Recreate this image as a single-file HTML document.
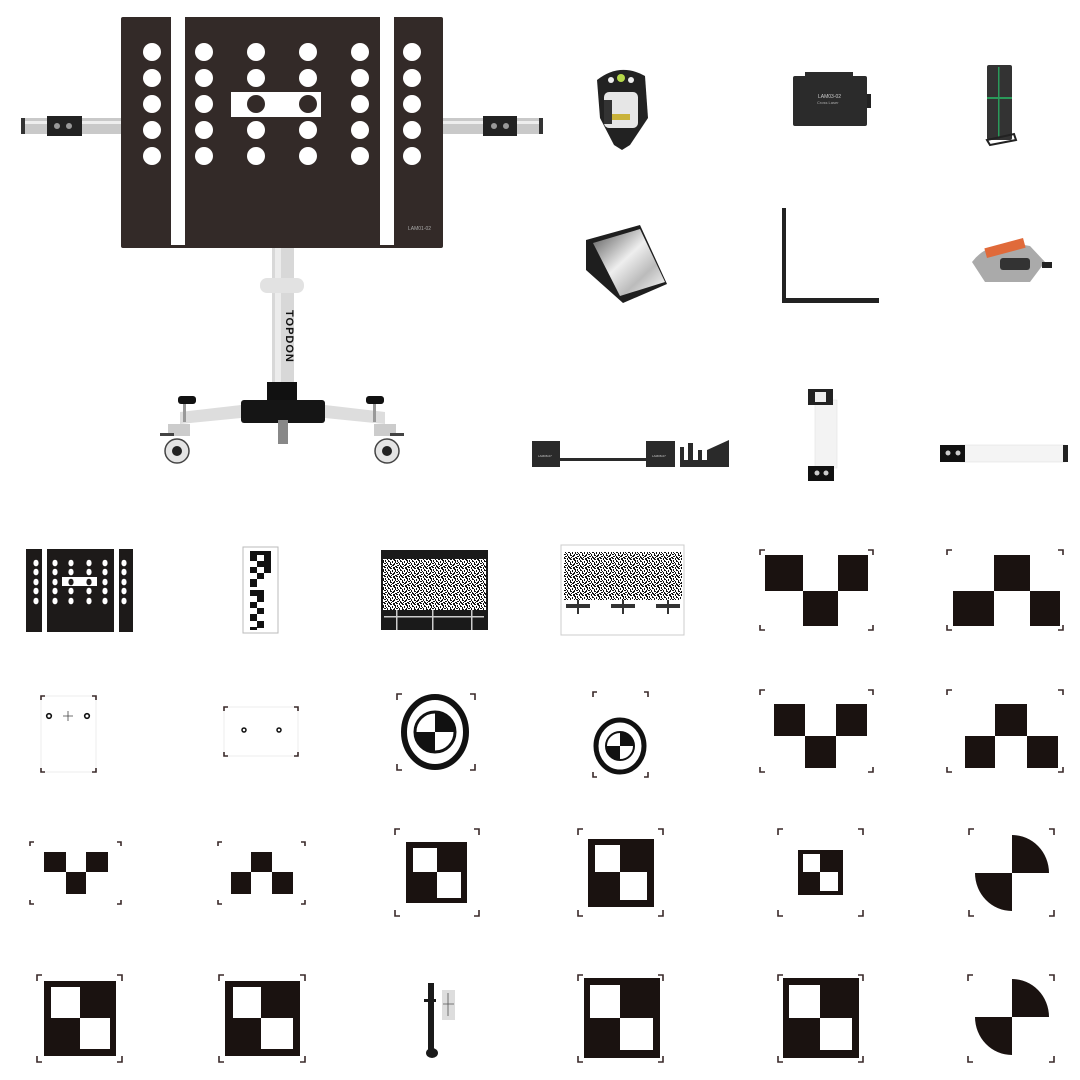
<!DOCTYPE html>
<html><head><meta charset="utf-8"><style>html,body{margin:0;padding:0;background:#fff}svg{display:block}</style></head>
<body>
<svg width="1080" height="1080" viewBox="0 0 1080 1080" xmlns="http://www.w3.org/2000/svg">
<defs>
<pattern id="nz" width="12" height="9" patternUnits="userSpaceOnUse">
<rect width="12" height="9" fill="#fff"/>
<g fill="#111">
<rect x="0" y="0" width="2" height="1"/><rect x="3" y="0" width="1" height="2"/><rect x="5" y="0" width="2" height="1"/><rect x="6" y="1" width="2" height="1"/><rect x="9" y="0" width="2" height="2"/>
<rect x="1" y="2" width="1" height="2"/><rect x="4" y="3" width="2" height="1"/><rect x="4" y="2" width="1" height="1"/><rect x="8" y="3" width="1" height="2"/><rect x="10" y="2" width="2" height="1"/><rect x="11" y="3" width="1" height="2"/>
<rect x="0" y="5" width="2" height="1"/><rect x="2" y="4" width="1" height="1"/><rect x="3" y="5" width="1" height="2"/><rect x="6" y="6" width="2" height="1"/><rect x="6" y="4" width="1" height="2"/><rect x="10" y="5" width="1" height="2"/><rect x="9" y="6" width="1" height="1"/>
<rect x="1" y="7" width="2" height="1"/><rect x="0" y="8" width="1" height="1"/><rect x="4" y="7" width="1" height="2"/><rect x="5" y="8" width="1" height="1"/><rect x="8" y="7" width="2" height="1"/><rect x="11" y="8" width="1" height="1"/><rect x="7" y="8" width="1" height="1"/>
</g>
</pattern>
<linearGradient id="mir" x1="0" y1="0" x2="1" y2="1"><stop offset="0" stop-color="#555"/><stop offset=".45" stop-color="#eee"/><stop offset=".7" stop-color="#bbb"/><stop offset="1" stop-color="#fff"/></linearGradient>
</defs>

<!-- rails -->
<rect x="21" y="118" width="100" height="16" fill="#c9c9c9"/>
<rect x="21" y="121" width="100" height="3" fill="#eee"/>
<rect x="21" y="118" width="4" height="16" fill="#333"/>
<rect x="47" y="116" width="35" height="20" fill="#222"/>
<circle cx="57" cy="126" r="3" fill="#999"/><circle cx="69" cy="126" r="3" fill="#999"/>
<rect x="443" y="118" width="100" height="16" fill="#c9c9c9"/>
<rect x="443" y="121" width="100" height="3" fill="#eee"/>
<rect x="539" y="118" width="4" height="16" fill="#333"/>
<rect x="483" y="116" width="34" height="20" fill="#222"/>
<circle cx="494" cy="126" r="3" fill="#999"/><circle cx="506" cy="126" r="3" fill="#999"/>

<!-- main board -->
<rect x="121" y="17" width="322" height="231" rx="2" fill="#332a28"/>
<rect x="171" y="17" width="14" height="228" fill="#fff"/>
<rect x="380" y="17" width="14" height="228" fill="#fff"/>
<g fill="#fff">
<circle cx="152" cy="52" r="9"/><circle cx="152" cy="78" r="9"/><circle cx="152" cy="104" r="9"/><circle cx="152" cy="130" r="9"/><circle cx="152" cy="156" r="9"/>
<circle cx="204" cy="52" r="9"/><circle cx="204" cy="78" r="9"/><circle cx="204" cy="104" r="9"/><circle cx="204" cy="130" r="9"/><circle cx="204" cy="156" r="9"/>
<circle cx="256" cy="52" r="9"/><circle cx="256" cy="78" r="9"/><circle cx="256" cy="130" r="9"/><circle cx="256" cy="156" r="9"/>
<circle cx="308" cy="52" r="9"/><circle cx="308" cy="78" r="9"/><circle cx="308" cy="130" r="9"/><circle cx="308" cy="156" r="9"/>
<circle cx="360" cy="52" r="9"/><circle cx="360" cy="78" r="9"/><circle cx="360" cy="104" r="9"/><circle cx="360" cy="130" r="9"/><circle cx="360" cy="156" r="9"/>
<circle cx="412" cy="52" r="9"/><circle cx="412" cy="78" r="9"/><circle cx="412" cy="104" r="9"/><circle cx="412" cy="130" r="9"/><circle cx="412" cy="156" r="9"/>
<rect x="231" y="92" width="90" height="25"/>
</g>
<circle cx="256" cy="104" r="9" fill="#332a28"/><circle cx="308" cy="104" r="9" fill="#332a28"/>
<text x="408" y="230" font-family="Liberation Sans, sans-serif" font-size="5" fill="#aaa">LAM01-02</text>

<!-- stand -->
<rect x="272" y="248" width="22" height="137" fill="#d8d8d8"/>
<rect x="275" y="248" width="6" height="137" fill="#ececec"/>
<rect x="260" y="278" width="44" height="15" rx="7" fill="#e2e2e2"/>
<text transform="translate(286,310) rotate(90)" font-family="Liberation Sans, sans-serif" font-weight="bold" font-size="11" letter-spacing="1" fill="#111">TOPDON</text>
<rect x="267" y="382" width="30" height="20" fill="#111"/>
<path d="M180 412 L241 405 L325 405 L385 412 L385 424 L325 418 L241 418 L180 424 Z" fill="#ddd"/>
<rect x="241" y="400" width="84" height="23" rx="3" fill="#151515"/>
<rect x="278" y="420" width="10" height="24" fill="#888"/>
<rect x="183" y="404" width="3" height="18" fill="#999"/><rect x="373" y="404" width="3" height="18" fill="#999"/>
<rect x="178" y="396" width="18" height="8" rx="3" fill="#111"/><rect x="366" y="396" width="18" height="8" rx="3" fill="#111"/>
<rect x="168" y="424" width="22" height="12" fill="#ccc"/><rect x="374" y="424" width="22" height="12" fill="#ccc"/>
<circle cx="177" cy="451" r="12" fill="#e4e4e4" stroke="#444" stroke-width="1.5"/><circle cx="177" cy="451" r="5" fill="#222"/>
<circle cx="387" cy="451" r="12" fill="#e4e4e4" stroke="#444" stroke-width="1.5"/><circle cx="387" cy="451" r="5" fill="#222"/>
<rect x="160" y="433" width="14" height="3" fill="#444"/><rect x="390" y="433" width="14" height="3" fill="#444"/>

<!-- top right accessories -->
<path d="M597 80 Q620 62 645 76 L648 118 L630 145 L622 150 L614 145 L600 118 Z" fill="#222"/>
<rect x="604" y="92" width="34" height="36" rx="5" fill="#e6e6e6"/>
<rect x="604" y="100" width="8" height="24" fill="#333"/>
<rect x="612" y="114" width="18" height="6" fill="#c9b23a"/>
<circle cx="621" cy="78" r="4" fill="#b6d94a"/><circle cx="611" cy="80" r="3" fill="#eee"/><circle cx="631" cy="80" r="3" fill="#eee"/>
<rect x="793" y="76" width="74" height="50" rx="2" fill="#2b2b2b"/>
<rect x="805" y="72" width="48" height="5" fill="#2b2b2b"/>
<rect x="867" y="94" width="4" height="14" fill="#222"/>
<text x="818" y="98" font-family="Liberation Sans, sans-serif" font-size="5" fill="#ccc">LAM03-02</text>
<text x="817" y="104" font-family="Liberation Sans, sans-serif" font-size="4" fill="#aaa">Cross Laser</text>
<rect x="987" y="65" width="25" height="75" rx="2" fill="#333"/>
<rect x="998" y="67" width="1.5" height="70" fill="#2a9a5a"/>
<rect x="987" y="97" width="25" height="2" fill="#2a9a5a"/>
<path d="M987 140 L1014 134 L1016 140 L990 145 Z" fill="none" stroke="#222" stroke-width="2"/>
<path d="M586 240 L640 225 L667 284 L623 303 L586 270 Z" fill="#1e1e1e"/>
<path d="M593 243 L640 229 L665 282 L620 296 Z" fill="url(#mir)"/>
<rect x="782" y="208" width="4" height="95" fill="#222"/>
<rect x="782" y="298" width="97" height="5" fill="#222"/>
<path d="M972 262 Q990 238 1030 246 L1045 262 L1030 282 L985 282 Z" fill="#aaa"/>
<rect x="985" y="243" width="40" height="10" fill="#e06a3a" transform="rotate(-15 1005 248)"/>
<rect x="1000" y="258" width="30" height="12" rx="3" fill="#333"/>
<rect x="1042" y="262" width="10" height="6" fill="#222"/>

<!-- bar set -->
<rect x="532" y="441" width="28" height="26" fill="#2a2a2a"/>
<rect x="560" y="458" width="86" height="3" fill="#2a2a2a"/>
<rect x="646" y="441" width="29" height="26" fill="#2a2a2a"/>
<text x="538" y="457" font-family="Liberation Sans, sans-serif" font-size="3" fill="#ccc">LAM08-07</text>
<text x="652" y="457" font-family="Liberation Sans, sans-serif" font-size="3" fill="#ccc">LAM08-07</text>
<path d="M680 467 L680 447 L684 447 L684 460 L688 460 L688 443 L693 443 L693 460 L698 460 L698 450 L702 450 L702 460 L707 460 L707 450 L729 440 L729 467 Z" fill="#2a2a2a"/>
<!-- vertical bracket -->
<rect x="815" y="400" width="22" height="68" fill="#f3f3f3" stroke="#ddd" stroke-width=".5"/>
<rect x="808" y="389" width="25" height="16" fill="#222"/><rect x="815" y="392" width="11" height="10" fill="#eee"/>
<rect x="808" y="466" width="26" height="15" fill="#111"/>
<circle cx="817" cy="473" r="2.5" fill="#ccc"/><circle cx="826" cy="473" r="2.5" fill="#ccc"/>
<!-- horizontal bar -->
<rect x="960" y="445" width="105" height="17" fill="#f4f4f4" stroke="#ddd" stroke-width=".5"/>
<rect x="940" y="445" width="25" height="17" fill="#111"/>
<circle cx="948" cy="453" r="2.5" fill="#ccc"/><circle cx="958" cy="453" r="2.5" fill="#ccc"/>
<rect x="1063" y="445" width="5" height="17" fill="#222"/>

<!-- ROW 1 -->
<rect x="26" y="549" width="107" height="83" fill="#1d1a19"/>
<rect x="42" y="549" width="5" height="83" fill="#fff"/><rect x="114" y="549" width="5" height="83" fill="#fff"/>
<g fill="#fff">
<ellipse cx="36" cy="563" rx="2.6" ry="3.3"/><ellipse cx="36" cy="572" rx="2.6" ry="3.3"/><ellipse cx="36" cy="582" rx="2.6" ry="3.3"/><ellipse cx="36" cy="591" rx="2.6" ry="3.3"/><ellipse cx="36" cy="601" rx="2.6" ry="3.3"/>
<ellipse cx="55" cy="563" rx="2.6" ry="3.3"/><ellipse cx="55" cy="572" rx="2.6" ry="3.3"/><ellipse cx="55" cy="582" rx="2.6" ry="3.3"/><ellipse cx="55" cy="591" rx="2.6" ry="3.3"/><ellipse cx="55" cy="601" rx="2.6" ry="3.3"/>
<ellipse cx="71" cy="563" rx="2.6" ry="3.3"/><ellipse cx="71" cy="572" rx="2.6" ry="3.3"/><ellipse cx="71" cy="591" rx="2.6" ry="3.3"/><ellipse cx="71" cy="601" rx="2.6" ry="3.3"/>
<ellipse cx="89" cy="563" rx="2.6" ry="3.3"/><ellipse cx="89" cy="572" rx="2.6" ry="3.3"/><ellipse cx="89" cy="591" rx="2.6" ry="3.3"/><ellipse cx="89" cy="601" rx="2.6" ry="3.3"/>
<ellipse cx="105" cy="563" rx="2.6" ry="3.3"/><ellipse cx="105" cy="572" rx="2.6" ry="3.3"/><ellipse cx="105" cy="582" rx="2.6" ry="3.3"/><ellipse cx="105" cy="591" rx="2.6" ry="3.3"/><ellipse cx="105" cy="601" rx="2.6" ry="3.3"/>
<ellipse cx="124" cy="563" rx="2.6" ry="3.3"/><ellipse cx="124" cy="572" rx="2.6" ry="3.3"/><ellipse cx="124" cy="582" rx="2.6" ry="3.3"/><ellipse cx="124" cy="591" rx="2.6" ry="3.3"/><ellipse cx="124" cy="601" rx="2.6" ry="3.3"/>
<rect x="62" y="577" width="35" height="9"/>
</g>
<ellipse cx="71" cy="582" rx="2.6" ry="3.3" fill="#1d1a19"/><ellipse cx="89" cy="582" rx="2.6" ry="3.3" fill="#1d1a19"/>

<rect x="243" y="547" width="35" height="86" fill="#fff" stroke="#bbb" stroke-width="1"/>
<g fill="#111">
<rect x="250" y="551" width="21" height="4"/><rect x="250" y="555" width="7" height="6"/><rect x="264" y="555" width="7" height="6"/><rect x="257" y="561" width="14" height="6"/>
<rect x="250" y="567" width="7" height="6"/><rect x="264" y="567" width="7" height="6"/><rect x="257" y="573" width="7" height="6"/>
<rect x="250" y="579" width="7" height="8"/><rect x="250" y="590" width="14" height="6"/><rect x="257" y="596" width="7" height="6"/>
<rect x="250" y="602" width="7" height="6"/><rect x="257" y="608" width="7" height="6"/><rect x="250" y="614" width="7" height="7"/><rect x="257" y="621" width="7" height="7"/><rect x="250" y="627" width="7" height="3"/>
</g>

<rect x="381" y="550" width="107" height="80" fill="#1a1a1a"/>
<rect x="383" y="559" width="103" height="51" fill="url(#nz)"/>
<g fill="#ccc"><rect x="384" y="616" width="100" height="1.5"/><rect x="396" y="610" width="1.5" height="20"/><rect x="432" y="610" width="1.5" height="20"/><rect x="471" y="610" width="1.5" height="20"/></g>

<rect x="561" y="545" width="123" height="90" fill="#fff" stroke="#ccc" stroke-width="1"/>
<rect x="564" y="552" width="118" height="48" fill="url(#nz)"/>
<g fill="#333"><rect x="566" y="604" width="24" height="4"/><rect x="577" y="600" width="2" height="14"/><rect x="611" y="604" width="24" height="4"/><rect x="622" y="600" width="2" height="14"/><rect x="656" y="604" width="24" height="4"/><rect x="667" y="600" width="2" height="14"/></g>

<g fill="#1a1210">
<rect x="765" y="555" width="38" height="36"/><rect x="838" y="555" width="30" height="36"/><rect x="803" y="591" width="35" height="35"/>
<rect x="994" y="555" width="36" height="36"/><rect x="953" y="591" width="41" height="35"/><rect x="1030" y="591" width="30" height="35"/>
</g>

<!-- ROW 2 -->
<rect x="41" y="696" width="55" height="76" fill="#fff" stroke="#eee"/>
<circle cx="49" cy="716" r="2.3" fill="none" stroke="#111" stroke-width="1.6"/><circle cx="87" cy="716" r="2.3" fill="none" stroke="#111" stroke-width="1.6"/>
<path d="M68 711 V721 M63 716 H73" stroke="#444" stroke-width=".8"/>
<rect x="224" y="707" width="74" height="49" fill="#fff" stroke="#eee"/>
<circle cx="244" cy="730" r="2" fill="none" stroke="#111" stroke-width="1.5"/><circle cx="279" cy="730" r="2" fill="none" stroke="#111" stroke-width="1.5"/>
<ellipse cx="435" cy="732" rx="31" ry="35" fill="none" stroke="#111" stroke-width="6"/>
<circle cx="435" cy="732" r="20" fill="#fff" stroke="#111" stroke-width="3"/>
<path d="M435 732 V712 A20 20 0 0 1 455 732 Z M435 732 V752 A20 20 0 0 1 415 732 Z" fill="#111"/>
<ellipse cx="620" cy="746" rx="24" ry="26" fill="none" stroke="#111" stroke-width="5"/>
<circle cx="620" cy="746" r="14" fill="#fff" stroke="#111" stroke-width="2"/>
<path d="M620 746 V732 A14 14 0 0 1 634 746 Z M620 746 V760 A14 14 0 0 1 606 746 Z" fill="#111"/>
<g fill="#1a1210">
<rect x="774" y="704" width="31" height="32"/><rect x="836" y="704" width="31" height="32"/><rect x="805" y="736" width="31" height="32"/>
<rect x="995" y="704" width="32" height="32"/><rect x="965" y="736" width="30" height="32"/><rect x="1027" y="736" width="31" height="32"/>
</g>

<!-- ROW 3 -->
<g fill="#1a1210">
<rect x="44" y="852" width="22" height="20"/><rect x="86" y="852" width="22" height="20"/><rect x="66" y="872" width="20" height="22"/>
<rect x="251" y="852" width="21" height="20"/><rect x="231" y="872" width="20" height="22"/><rect x="272" y="872" width="21" height="22"/>
<rect x="406" y="842" width="61" height="61"/><rect x="588" y="839" width="66" height="68"/><rect x="798" y="850" width="45" height="45"/>
<path d="M1012 873 V835 A37 38 0 0 1 1049 873 Z M1012 873 V911 A37 38 0 0 1 975 873 Z"/>
</g>
<g fill="#fff">
<rect x="413" y="848" width="24" height="24"/><rect x="437" y="872" width="24" height="26"/>
<rect x="595" y="845" width="25" height="27"/><rect x="620" y="872" width="27" height="28"/>
<rect x="803" y="854" width="17" height="18"/><rect x="820" y="872" width="18" height="19"/>
</g>

<!-- ROW 4 -->
<g fill="#1a1210">
<rect x="44" y="981" width="72" height="75"/><rect x="225" y="981" width="75" height="75"/>
<rect x="584" y="978" width="76" height="80"/><rect x="783" y="978" width="76" height="80"/>
<path d="M1012 1017 V979 A37 38 0 0 1 1049 1017 Z M1012 1017 V1055 A37 38 0 0 1 975 1017 Z"/>
</g>
<g fill="#fff">
<rect x="51" y="987" width="29" height="31"/><rect x="80" y="1018" width="30" height="31"/>
<rect x="233" y="987" width="28" height="31"/><rect x="261" y="1018" width="32" height="31"/>
<rect x="590" y="985" width="30" height="33"/><rect x="620" y="1018" width="33" height="32"/>
<rect x="789" y="985" width="31" height="33"/><rect x="820" y="1018" width="32" height="32"/>
</g>
<rect x="428" y="983" width="6" height="72" fill="#1a1a1a"/>
<ellipse cx="432" cy="1053" rx="6" ry="5" fill="#1a1a1a"/>
<rect x="424" y="999" width="12" height="3" fill="#1a1a1a"/>
<rect x="442" y="990" width="13" height="30" fill="#ddd"/>
<path d="M448 993 V1016 M443 1004 H454" stroke="#555" stroke-width=".8"/>

<!-- corner brackets -->
<g fill="none" stroke="#3a2a2a" stroke-width="1.6">
<path d="M760 555 V550 H765 M868 550 H873 V555 M760 625 V630 H765 M868 630 H873 V625"/>
<path d="M947 555 V550 H952 M1058 550 H1063 V555 M947 625 V630 H952 M1058 630 H1063 V625"/>
<path d="M41 700 V696 H45 M92 696 H96 V700 M41 768 V772 H45 M92 772 H96 V768"/>
<path d="M224 711 V707 H228 M294 707 H298 V711 M224 752 V756 H228 M294 756 H298 V752"/>
<path d="M397 700 V694 H402 M470 694 H475 V700 M397 764 V770 H402 M470 770 H475 V764"/>
<path d="M593 697 V692 H597 M644 692 H648 V697 M593 772 V777 H597 M644 777 H648 V772"/>
<path d="M760 695 V690 H765 M868 690 H873 V695 M760 767 V772 H765 M868 772 H873 V767"/>
<path d="M947 695 V690 H952 M1058 690 H1063 V695 M947 767 V772 H952 M1058 772 H1063 V767"/>
<path d="M30 846 V842 H34 M117 842 H121 V846 M30 900 V904 H34 M117 904 H121 V900"/>
<path d="M218 846 V842 H222 M301 842 H305 V846 M218 900 V904 H222 M301 904 H305 V900"/>
<path d="M395 835 V829 H400 M474 829 H479 V835 M395 910 V916 H400 M474 916 H479 V910"/>
<path d="M578 835 V829 H583 M658 829 H663 V835 M578 910 V916 H583 M658 916 H663 V910"/>
<path d="M778 835 V829 H783 M858 829 H863 V835 M778 910 V916 H783 M858 916 H863 V910"/>
<path d="M969 835 V829 H974 M1049 829 H1054 V835 M969 910 V916 H974 M1049 916 H1054 V910"/>
<path d="M37 981 V975 H42 M117 975 H122 V981 M37 1056 V1062 H42 M117 1062 H122 V1056"/>
<path d="M219 981 V975 H224 M300 975 H305 V981 M219 1056 V1062 H224 M300 1062 H305 V1056"/>
<path d="M578 981 V975 H583 M658 975 H663 V981 M578 1056 V1062 H583 M658 1062 H663 V1056"/>
<path d="M778 981 V975 H783 M858 975 H863 V981 M778 1056 V1062 H783 M858 1062 H863 V1056"/>
<path d="M968 981 V975 H973 M1049 975 H1054 V981 M968 1056 V1062 H973 M1049 1062 H1054 V1056"/>
</g>
</svg>
</body></html>
